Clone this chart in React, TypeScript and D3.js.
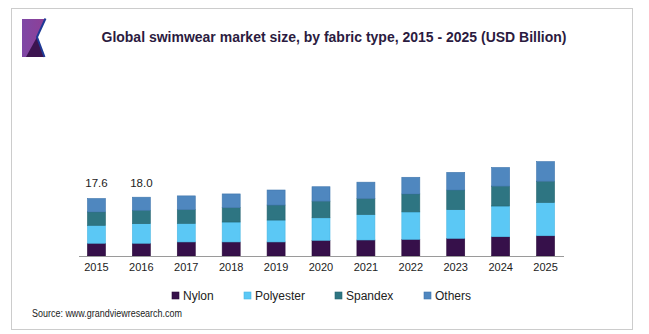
import React from "react";
import * as d3 from "d3";

const years = ["2015", "2016", "2017", "2018", "2019", "2020", "2021", "2022", "2023", "2024", "2025"];
const nylon = [3.9, 3.9, 4.3, 4.3, 4.3, 4.8, 4.9, 5.1, 5.4, 5.9, 6.2];
const polyester = [5.5, 6.0, 5.7, 6.1, 6.7, 6.9, 7.8, 8.4, 8.8, 9.4, 10.2];
const spandex = [4.1, 4.1, 4.2, 4.4, 4.6, 5.1, 4.9, 5.5, 6.0, 6.1, 6.5];
const others = [4.1, 4.0, 4.2, 4.2, 4.6, 4.4, 5.0, 5.1, 5.4, 5.7, 6.0];
const seriesNames = ["Nylon", "Polyester", "Spandex", "Others"];
const seriesColors = ["#36104a", "#5bc8f5", "#2e7582", "#4f87bf"];
const seriesStrokes = ["#2a0a3a", "#49b6e3", "#256570", "#3f76ad"];
const valueLabels = [{ year: "2015", text: "17.6" }, { year: "2016", text: "18.0" }];
const titleText = "Global swimwear market size, by fabric type, 2015 - 2025 (USD Billion)";
const sourceText = "Source: www.grandviewresearch.com";

export default function App() {
  const x = d3.scaleBand<string>().domain(years).range([74, 568]).paddingInner(0.6).paddingOuter(0.3);
  const y = d3.scaleLinear().domain([0, 30]).range([256, 158]);
  const table = years.map((yr, i) => ({
    year: yr,
    Nylon: nylon[i],
    Polyester: polyester[i],
    Spandex: spandex[i],
    Others: others[i],
  }));
  const stacked = d3.stack<any>().keys(seriesNames)(table);
  const bw = 18;
  const font = "Arial, 'Liberation Sans', sans-serif";
  const legendX = [172, 244, 335, 424];

  return (
    <div style={{ position: "fixed", left: 0, top: 0 }}>
      <svg width={649} height={334} style={{ display: "block", background: "#fff" }}>
        <defs>
          <linearGradient id="ul" x1="0" x2="1" y1="0" y2="0">
            <stop offset="0" stopColor="#23399a" />
            <stop offset="0.6" stopColor="#3b3a9e" />
            <stop offset="1" stopColor="#7a3aa0" />
          </linearGradient>
          <linearGradient id="logo" x1="0" x2="1" y1="0" y2="0">
            <stop offset="0" stopColor="#7e48a6" />
            <stop offset="1" stopColor="#8e3f96" />
          </linearGradient>
        </defs>
        <rect x={11.5} y={8.5} width={621} height={321} fill="#fff" stroke="#cccccc" strokeWidth={1} />
        {/* logo */}
        <polygon points="22,19 45,19 37,37 44,57 22,57" fill="url(#logo)" />
        <polygon points="26,57 37,37 44,57" fill="#3c1450" />
        <polyline points="45.5,18.5 37,37 44.5,57" fill="none" stroke="#1e3a96" strokeWidth={2} />
        <line x1={43} x2={622} y1={56.5} y2={56.5} stroke="url(#ul)" strokeWidth={2} />
        <text x={101.5} y={41.5} fontFamily={font} fontWeight="bold" fontSize={14} fill="#2b1b40"
          textLength={465} lengthAdjust="spacingAndGlyphs">{titleText}</text>

        {stacked.map((s, si) => (
          <g key={seriesNames[si]}>
            {s.map((d: any, i: number) => (
              <rect key={i} x={(x(years[i]) as number) + x.bandwidth() / 2 - bw / 2} y={y(d[1])}
                width={bw} height={y(d[0]) - y(d[1])} fill={seriesColors[si]}
                stroke={seriesStrokes[si]} strokeWidth={0.6} />
            ))}
          </g>
        ))}

        <line x1={79} x2={564} y1={256.5} y2={256.5} stroke="#9a9a9a" strokeWidth={1} />
        {years.map((yr) => (
          <text key={yr} x={(x(yr) as number) + x.bandwidth() / 2} y={271} textAnchor="middle"
            fontFamily={font} fontSize={11} fill="#222">{yr}</text>
        ))}
        {valueLabels.map((v) => (
          <text key={v.year} x={(x(v.year) as number) + x.bandwidth() / 2} y={187} textAnchor="middle"
            fontFamily={font} fontSize={11.5} fill="#222">{v.text}</text>
        ))}

        {seriesNames.map((n, i) => (
          <g key={n}>
            <rect x={legendX[i]} y={292} width={7} height={7} fill={seriesColors[i]} stroke={seriesStrokes[i]} strokeWidth={0.6} />
            <text x={legendX[i] + 11} y={299.5} fontFamily={font} fontSize={12} fill="#222">{n}</text>
          </g>
        ))}
        <text x={32} y={316.5} fontFamily={font} fontSize={10} fill="#222" textLength={150}
          lengthAdjust="spacingAndGlyphs">{sourceText}</text>
      </svg>
    </div>
  );
}
